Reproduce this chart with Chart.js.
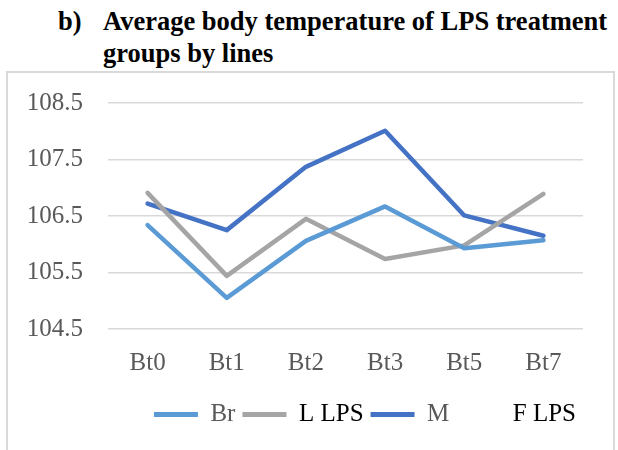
<!DOCTYPE html>
<html>
<head>
<meta charset="utf-8">
<script src="https://cdn.jsdelivr.net/npm/chart.js@4"></script>
<style>
  html, body { margin: 0; padding: 0; background: #fff; }
  #wrap { position: relative; width: 618px; height: 450px; overflow: hidden; }
  #frame { position: absolute; left: 6px; top: 71px; width: 605px; height: 400px; border: 2px solid #d9d9d9; }
  .title { position: absolute; font-family: "Liberation Serif", serif; font-weight: bold; font-size: 26.5px; line-height: 32px; color: #000; white-space: nowrap; }
  canvas { position: absolute; left: 0; top: 0; }
</style>
</head>
<body>
<div id="wrap">
  <div id="frame"></div>
  <div class="title" style="left:58px; top:5px;">b)</div>
  <div class="title" style="left:103px; top:5px;">Average body temperature of LPS treatment<br>groups by lines</div>
  <canvas id="tempChart" width="618" height="450"></canvas>
</div>
<script>
const categories = ["Bt0", "Bt1", "Bt2", "Bt3", "Bt5", "Bt7"];
const brValues = [106.34, 105.05, 106.06, 106.67, 105.93, 106.07];
const lLpsValues = [106.91, 105.44, 106.45, 105.74, 105.98, 106.89];
const mValues = [106.72, 106.25, 107.37, 108.01, 106.51, 106.15];
const legendNames = ["Br", "L LPS", "M", "F LPS"];
const legendTextColors = ["#595959", "#000000", "#595959", "#000000"];
const yMin = 104.5;
const yMax = 108.5;
const yStep = 1;

Chart.defaults.font.family = "Liberation Serif";

function lineSet(label, data, color) {
  return {
    label: label,
    data: data,
    borderColor: color,
    backgroundColor: color,
    borderWidth: 4.5,
    pointRadius: 0,
    pointHoverRadius: 0,
    tension: 0,
    borderCapStyle: "round",
    borderJoinStyle: "round",
    fill: false
  };
}

const ctx = document.getElementById("tempChart").getContext("2d");

new Chart(ctx, {
  type: "line",
  data: {
    labels: categories,
    datasets: [
      lineSet(legendNames[0], brValues, "#5B9BD5"),
      lineSet(legendNames[1], lLpsValues, "#A5A5A5"),
      lineSet(legendNames[2], mValues, "#4472C4")
    ]
  },
  options: {
    responsive: false,
    animation: false,
    layout: {
      padding: { left: 8, top: 103, right: 35, bottom: 13 }
    },
    plugins: {
      tooltip: { enabled: false },
      legend: {
        display: true,
        position: "bottom",
        align: "end",
        fullSize: false,
        labels: {
          boxWidth: 44,
          boxHeight: 5,
          useBorderRadius: true,
          borderRadius: 2.5,
          padding: 7,
          font: { size: 25 },
          generateLabels: function (chart) {
            // one entry per line, plus the extra text-only "F LPS" entry
            return legendNames.map(function (name, i) {
              const ds = chart.data.datasets[i];
              const color = ds ? ds.borderColor : "rgba(0,0,0,0)";
              return {
                text: name,
                fillStyle: color,
                strokeStyle: color,
                lineWidth: 0,
                fontColor: legendTextColors[i],
                hidden: false,
                datasetIndex: ds ? i : undefined
              };
            });
          }
        }
      }
    },
    scales: {
      x: {
        offset: true,
        grid: { display: false, drawTicks: false },
        border: { display: false },
        ticks: { color: "#595959", font: { size: 25 }, padding: 19 },
        afterFit: function (scale) { scale.height = 66; }
      },
      y: {
        min: yMin,
        max: yMax,
        grid: { color: "#d9d9d9", lineWidth: 1.5, drawTicks: false },
        border: { display: false },
        ticks: {
          stepSize: yStep,
          color: "#595959",
          font: { size: 25 },
          padding: 25,
          callback: function (value) { return Number(value).toFixed(1); }
        },
        afterFit: function (scale) { scale.width = 100; }
      }
    }
  }
});
</script>
</body>
</html>
